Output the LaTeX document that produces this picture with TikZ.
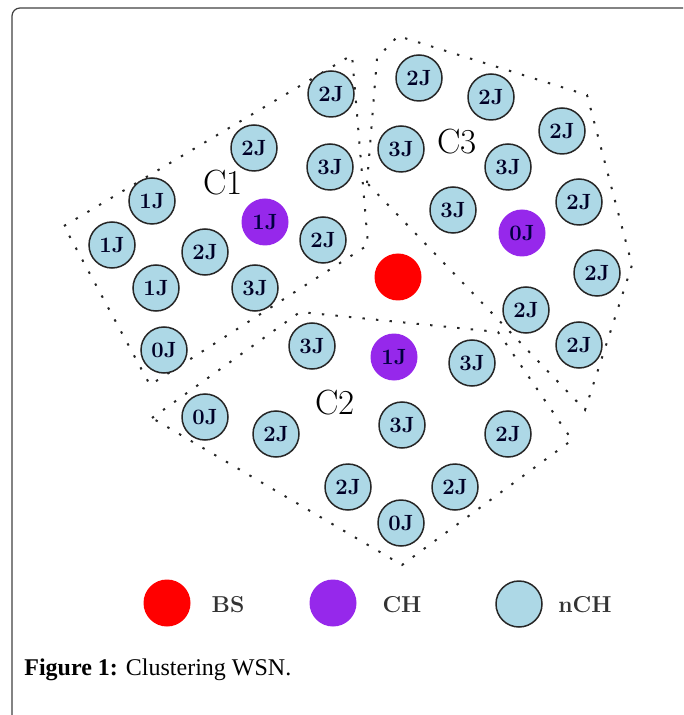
\documentclass[tikz,border=0pt]{standalone}
\usepackage{fontspec}
\newfontfamily\capfont{Liberation Serif}
\usetikzlibrary{positioning}
\definecolor{sinkred}{RGB}{255,0,0}
\definecolor{headviolet}{RGB}{150,40,235}
\definecolor{nodeblue}{RGB}{173,216,230}

\begin{document}
\begin{tikzpicture}[x=0.5pt,y=-0.5pt,
  sink/.style={circle,fill=sinkred,minimum size=23.5pt,inner sep=0pt},
  head/.style={circle,fill=headviolet,text=blue!25!black,minimum size=23.5pt,inner sep=0pt,font=\fontsize{11}{13}\selectfont\bfseries},
  member/.style={circle,draw=black!85,line width=0.75pt,fill=nodeblue,text=blue!15!black,minimum size=23pt,inner sep=0pt,font=\fontsize{11}{13}\selectfont\bfseries},
  zone/.style={black!85,line width=1pt,dash pattern=on 1.2pt off 5.6pt},
  tag/.style={inner sep=0pt,font=\fontsize{17.5}{20}\selectfont},
  key/.style={inner sep=0pt,text=black!80,font=\fontsize{11.5}{14}\selectfont\bfseries}]
  \useasboundingbox (0,0) rectangle (683,715);
  \clip (0,0) rectangle (683,715);
  \draw[black!75,line width=0.6pt,rounded corners=4pt] (12,8) rectangle (700,730);

  % cluster borders
  \draw[zone] (64,226) -- (352,55) -- (368,245) -- (150,385) -- cycle;
  \draw[zone] (152,418) -- (300,312) -- (498,332) -- (572,440) -- (402,565) -- cycle;
  \draw[zone] (367,183) -- (377,58) -- (398,36) -- (587,95) -- (632,265) -- (585,410) -- cycle;

  % base station
  \node[sink] (bs) at (398,277) {};

  % cluster C1
  \node[tag] (c1) at (223,183) {C1};
  \node[member] (a1) at (331,94) {2J};
  \node[member] (a2) at (254,148) {2J};
  \node[member] (a3) at (330,167) {3J};
  \node[member] (a4) at (152,201) {1J};
  \node[head] (h1) at (265,222) {1J};
  \node[member] (a5) at (323,240) {2J};
  \node[member] (a6) at (112,245) {1J};
  \node[member] (a7) at (205,252) {2J};
  \node[member] (a8) at (156,288) {1J};
  \node[member] (a9) at (255,288) {3J};
  \node[member] (a10) at (164,350) {0J};

  % cluster C2
  \node[tag] (c2) at (335,403) {C2};
  \node[member] (b1) at (312,346) {3J};
  \node[head] (h2) at (394,357) {1J};
  \node[member] (b2) at (472,363) {3J};
  \node[member] (b3) at (205,417) {0J};
  \node[member] (b4) at (276,434) {2J};
  \node[member] (b5) at (402,425) {3J};
  \node[member] (b6) at (508,434) {2J};
  \node[member] (b7) at (348,487) {2J};
  \node[member] (b8) at (455,487) {2J};
  \node[member] (b9) at (401,523) {0J};

  % cluster C3
  \node[tag] (c3) at (457,142) {C3};
  \node[member] (d1) at (419,78) {2J};
  \node[member] (d2) at (491,97) {2J};
  \node[member] (d3) at (401,149) {3J};
  \node[member] (d4) at (562,131) {2J};
  \node[member] (d5) at (508,167) {3J};
  \node[member] (d6) at (579,202) {2J};
  \node[member] (d7) at (453,210) {3J};
  \node[head] (h3) at (522,233) {0J};
  \node[member] (d8) at (597,273) {2J};
  \node[member] (d9) at (526,310) {2J};
  \node[member] (d10) at (579,345) {2J};

  % legend
  \node[sink] (lbs) at (167,603) {};
  \node[key] (lbstxt) at (228,605) {BS};
  \node[head] (lch) at (333,603) {};
  \node[key] (lchtxt) at (402,605) {CH};
  \node[member] (lnch) at (519,604) {};
  \node[key] (lnchtxt) at (585,605) {nCH};

  \node[anchor=base west,inner sep=0pt,font=\capfont\fontsize{12}{14}\selectfont] (cap) at (24,675) {\textbf{Figure 1:} Clustering WSN.};
\end{tikzpicture}
\end{document}
